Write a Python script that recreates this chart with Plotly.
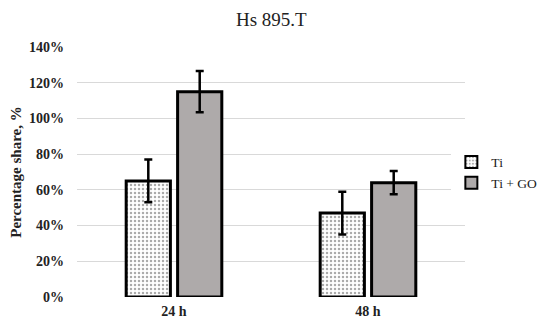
import plotly.graph_objects as go

categories = ["24 h", "48 h"]
ti_values = [0.65, 0.47]
ti_errors = [0.12, 0.12]
tigo_values = [1.15, 0.64]
tigo_errors = [0.115, 0.065]
series_names = ["Ti", "Ti + GO"]
title_text = "Hs 895.T"

FONT = "Liberation Serif, serif"

fig = go.Figure()
fig.add_trace(go.Bar(
    x=categories, y=ti_values, name=series_names[0],
    error_y=dict(type="data", array=ti_errors, color="black", thickness=2.5, width=4),
    marker=dict(color="white", line=dict(color="black", width=3),
                pattern=dict(shape=".", fgcolor="#555555", bgcolor="white", size=4, solidity=0.3)),
))
fig.add_trace(go.Bar(
    x=categories, y=tigo_values, name=series_names[1],
    error_y=dict(type="data", array=tigo_errors, color="black", thickness=2.5, width=4),
    marker=dict(color="#AEAAAA", line=dict(color="black", width=3)),
))

fig.update_layout(
    width=542, height=317,
    margin=dict(l=69, r=85, t=39, b=28, autoexpand=False),
    paper_bgcolor="white", plot_bgcolor="white",
    barmode="group", bargap=0.47, bargroupgap=0.14,
    font=dict(family=FONT, color="#222222"),
    showlegend=True,
    legend=dict(xref="container", yref="container", x=0.818, xanchor="left",
                y=0.48, yanchor="middle",
                font=dict(family=FONT, size=13.5, color="#222222"),
                itemsizing="constant", tracegroupgap=0),
)
fig.add_annotation(
    text=title_text, xref="paper", yref="paper", x=0.5, xanchor="center",
    y=1.0, yshift=40, yanchor="top", showarrow=False,
    font=dict(family=FONT, size=19, color="#222222"),
)
fig.update_yaxes(
    range=[0, 1.4], dtick=0.2, tickformat=".0%",
    showgrid=True, gridcolor="#D9D9D9", gridwidth=1,
    zeroline=False, showline=False,
    tickfont=dict(family=FONT, size=14, color="#222222", weight="bold"),
    title=dict(text="<b>Percentage share, %</b>", font=dict(family=FONT, size=15, color="#222222"), standoff=8),
    ticks="", ticklabelstandoff=12,
)
fig.update_xaxes(
    showgrid=False, showline=False, ticks="",
    tickfont=dict(family=FONT, size=14, color="#222222", weight="bold"),
    ticklabelstandoff=4,
)

fig.write_html("out.html")
